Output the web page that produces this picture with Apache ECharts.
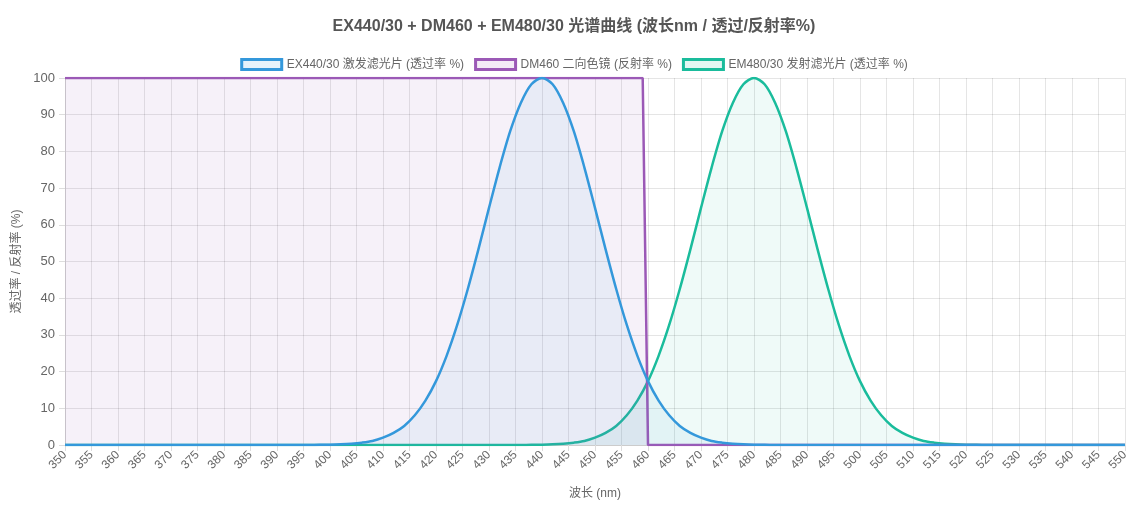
<!DOCTYPE html>
<html>
<head>
<meta charset="utf-8">
<script src="https://cdn.jsdelivr.net/npm/echarts@6/dist/echarts.min.js"></script>
<style>
  html, body { margin: 0; padding: 0; background: #fff; }
  #chart { width: 1148px; height: 517px; }
</style>
</head>
<body>
<div id="chart"></div>
<script>
// EX440/30 excitation filter transmission (%), sampled every 2 nm around the band
const exWavelengths = [350,
  396, 398, 400, 402, 404, 406, 408, 410, 412, 414, 416, 418, 420, 422, 424, 426, 428, 430, 432, 434, 436, 438,
  440,
  442, 444, 446, 448, 450, 452, 454, 456, 458, 460, 462, 464, 466, 468, 470, 472, 474, 476, 478, 480, 482, 484,
  550];
const exValues = [0,
  0.02, 0.05, 0.09, 0.18, 0.35, 0.64, 1.1, 2.0, 3.3, 5.2, 8.1, 12.1, 17.4, 24.3, 32.7, 42.5, 53.3, 64.6, 75.6, 85.5, 93.2, 98.3,
  100,
  98.3, 93.2, 85.5, 75.6, 64.6, 53.3, 42.5, 32.7, 24.3, 17.4, 12.1, 8.1, 5.2, 3.3, 2.0, 1.1, 0.64, 0.35, 0.18, 0.09, 0.05, 0.02,
  0];

// EM480/30 emission filter transmission (%)
const emWavelengths = [350,
  436, 438, 440, 442, 444, 446, 448, 450, 452, 454, 456, 458, 460, 462, 464, 466, 468, 470, 472, 474, 476, 478,
  480,
  482, 484, 486, 488, 490, 492, 494, 496, 498, 500, 502, 504, 506, 508, 510, 512, 514, 516, 518, 520, 522, 524,
  550];
const emValues = [0,
  0.02, 0.05, 0.09, 0.18, 0.35, 0.64, 1.1, 2.0, 3.3, 5.2, 8.1, 12.1, 17.4, 24.3, 32.7, 42.5, 53.3, 64.6, 75.6, 85.5, 93.2, 98.3,
  100,
  98.3, 93.2, 85.5, 75.6, 64.6, 53.3, 42.5, 32.7, 24.3, 17.4, 12.1, 8.1, 5.2, 3.3, 2.0, 1.1, 0.64, 0.35, 0.18, 0.09, 0.05, 0.02,
  0];

// DM460 dichroic reflection (%) – step edge
const dmWavelengths = [350, 459, 460, 550];
const dmValues = [100, 100, 0, 0];

const seriesNames = ['EX440/30 激发滤光片 (透过率 %)', 'DM460 二向色镜 (反射率 %)', 'EM480/30 发射滤光片 (透过率 %)'];
const colors = ['#3498db', '#9b59b6', '#1abc9c'];
const fills = ['rgba(52,152,219,0.1)', 'rgba(155,89,182,0.12)', 'rgba(26,188,156,0.1)'];
const legendFills = ['rgba(52,152,219,0.12)', 'rgba(155,89,182,0.12)', 'rgba(26,188,156,0.12)'];

const font = "'Liberation Sans', 'Noto Sans CJK SC', sans-serif";
const chart = echarts.init(document.getElementById('chart'));

const pairs = (xs, ys) => xs.map((x, i) => [x, ys[i]]);

function lineSeries(idx, data, smooth) {
  return {
    name: seriesNames[idx],
    type: 'line',
    data: data,
    smooth: smooth,
    showSymbol: false,
    symbol: 'none',
    lineStyle: { color: colors[idx], width: 2.5 },
    itemStyle: { color: colors[idx] },
    areaStyle: { color: fills[idx], origin: 'start' },
    z: 10 - idx
  };
}

chart.setOption({
  backgroundColor: '#fff',
  animation: false,
  textStyle: { fontFamily: font },
  title: {
    text: 'EX440/30 + DM460 + EM480/30 光谱曲线 (波长nm / 透过/反射率%)',
    left: 'center',
    top: 14,
    textStyle: { fontFamily: font, fontSize: 16, fontWeight: 'bold', color: '#555' }
  },
  legend: {
    top: 53,
    left: 'center',
    icon: 'rect',
    itemWidth: 40,
    itemHeight: 10,
    itemGap: 10,
    textStyle: { fontFamily: font, fontSize: 12, color: '#666' },
    data: seriesNames.map((n, i) => ({
      name: n,
      itemStyle: { color: legendFills[i], borderColor: colors[i], borderWidth: 3 }
    }))
  },
  grid: { left: 65, right: 23, top: 78, bottom: 72 },
  xAxis: {
    type: 'value',
    min: 350,
    max: 550,
    interval: 5,
    name: '波长 (nm)',
    nameLocation: 'middle',
    nameGap: 43,
    nameTextStyle: { fontFamily: font, fontSize: 12, color: '#666' },
    axisLine: { lineStyle: { color: '#ccc' } },
    axisTick: { show: true, length: 6, lineStyle: { color: '#ddd' } },
    axisLabel: { rotate: 45, fontSize: 12, color: '#666', margin: 8 },
    splitLine: { show: true, lineStyle: { color: 'rgba(0,0,0,0.1)' } }
  },
  yAxis: {
    type: 'value',
    min: 0,
    max: 100,
    interval: 10,
    name: '透过率 / 反射率 (%)',
    nameLocation: 'middle',
    nameGap: 37,
    nameTextStyle: { fontFamily: font, fontSize: 12, color: '#666' },
    axisLine: { show: true, lineStyle: { color: '#ccc' } },
    axisTick: { show: true, length: 6, lineStyle: { color: '#ddd' } },
    axisLabel: { fontSize: 13, color: '#666', margin: 10 },
    splitLine: { show: true, lineStyle: { color: 'rgba(0,0,0,0.1)' } }
  },
  series: [
    lineSeries(2, pairs(emWavelengths, emValues), 0.3),
    lineSeries(1, pairs(dmWavelengths, dmValues), false),
    lineSeries(0, pairs(exWavelengths, exValues), 0.3)
  ]
});
</script>
</body>
</html>
